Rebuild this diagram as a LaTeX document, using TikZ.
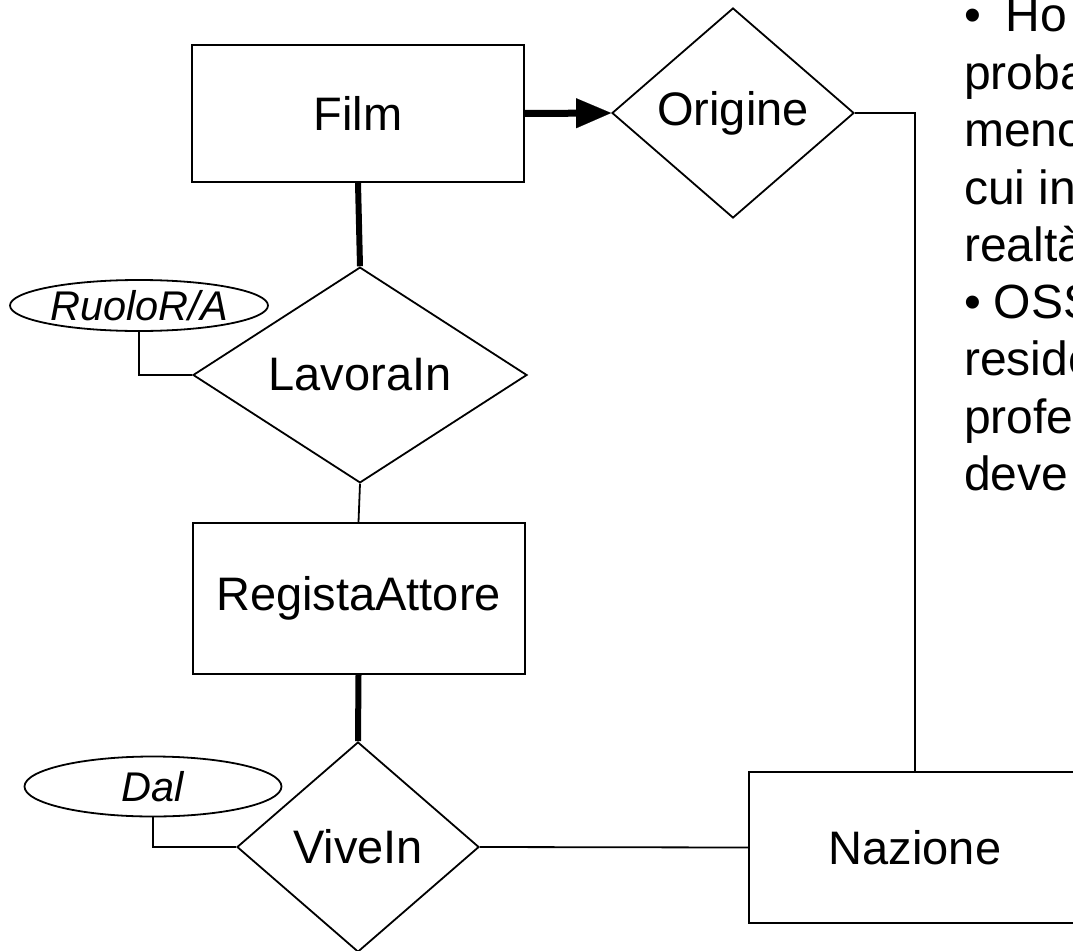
\documentclass[tikz,border=0pt]{standalone}
\usepackage{fontspec}
\setmainfont{Liberation Sans}
\usetikzlibrary{shapes.geometric,arrows.meta}
\begin{document}
\begin{tikzpicture}[x=1pt,y=-1pt,
  ent/.style={draw,line width=2pt,minimum width=332pt,minimum height=151pt,inner sep=0pt,font=\fontsize{47}{52}\selectfont},
  rel/.style={draw,diamond,line width=1.8pt,inner sep=0pt,font=\fontsize{47}{52}\selectfont},
  attr/.style={draw,ellipse,line width=1.8pt,inner sep=0pt,font=\fontsize{41.5}{45}\selectfont\itshape},
  thinline/.style={line width=1.8pt},
  thickline/.style={line width=6pt},
  note/.style={anchor=base west,inner sep=0pt,font=\fontsize{48}{52}\selectfont}]
\useasboundingbox (0,0) rectangle (1073,950);
\clip (0,0) rectangle (1073,950);
\fill[white] (0,0) rectangle (1073,950);

% entities
\node[ent,minimum height=137pt] (film) at (358,113.5) {Film};
\node[ent] (reg) at (358.5,598.5) {RegistaAttore};
\node[ent] (naz) at (915,847.5) {Nazione};

% relationships
\node[rel,minimum width=242pt,minimum height=210pt] (orig) at (733,113) {Origine};
\node[rel,minimum width=334pt,minimum height=156pt] (lav) at (360,375) {LavoraIn};
\node[rel,minimum width=242pt,minimum height=210pt] (vive) at (358,847) {ViveIn};

% attributes
\node[attr,minimum width=258pt,minimum height=51pt] (ruolo) at (139,305.5) {RuoloR/A};
\node[attr,minimum width=257pt,minimum height=60pt] (dal) at (153,786.5) {Dal};

% connectors
\draw[line width=7pt,-{Triangle[length=35pt,width=30pt,line width=0.1pt]}] (film.east) -- (orig.west);
\draw[thickline] (film.south) -- (lav.north);
\draw[thinline] (lav.south) -- (reg.north);
\draw[thickline] (reg.south) -- (vive.north);
\draw[thinline] (ruolo.south) |- (lav.west);
\draw[thinline] (dal.south) |- (vive.west);
\draw[thinline] (vive.east) -- (naz.west);
\draw[thinline] (orig.east) -| (naz.north);

% side text
\node[note] (t1) at (964,32) {•\hspace{25pt}Ho};
\node[note] (t2) at (964,89) {proba};
\node[note] (t3) at (964,146) {meno};
\node[note] (t4) at (964,204) {cui in};
\node[note] (t5) at (964,261) {realtà};
\node[note] (t6) at (964,318) {•\hspace{13pt}OSS};
\node[note] (t7) at (964,375) {reside};
\node[note] (t8) at (964,433) {profe};
\node[note] (t9) at (964,490) {deve};
\end{tikzpicture}
\end{document}
